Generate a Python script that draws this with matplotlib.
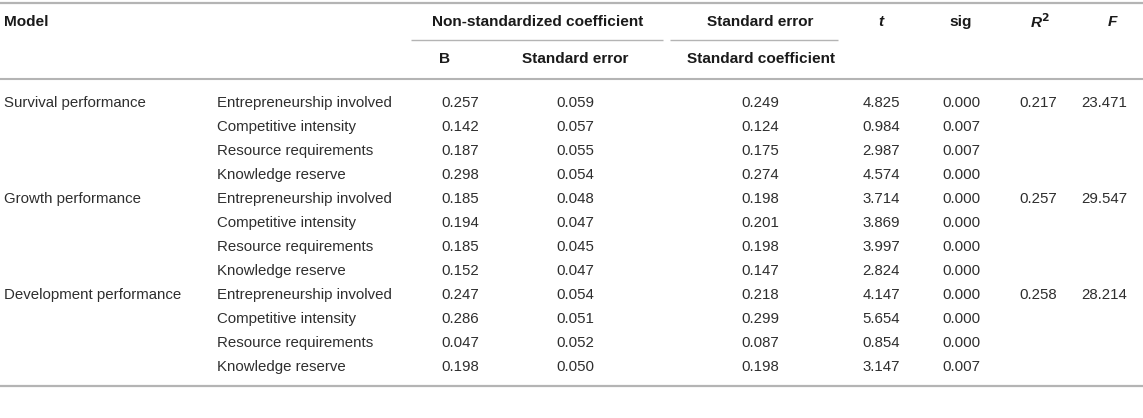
import numpy as np
import matplotlib
matplotlib.use("Agg")
import matplotlib.pyplot as plt

plt.rcParams['font.family'] = ['Liberation Sans', 'DejaVu Sans']
plt.rcParams['mathtext.fontset'] = 'custom'
plt.rcParams['mathtext.bfit'] = 'Liberation Sans:italic:bold'
plt.rcParams['mathtext.rm'] = 'Liberation Sans'

# table data
models = ["Survival performance", "Growth performance", "Development performance"]
predictors = ["Entrepreneurship involved", "Competitive intensity",
              "Resource requirements", "Knowledge reserve"]
b_vals = ["0.257", "0.142", "0.187", "0.298",
          "0.185", "0.194", "0.185", "0.152",
          "0.247", "0.286", "0.047", "0.198"]
se_vals = ["0.059", "0.057", "0.055", "0.054",
           "0.048", "0.047", "0.045", "0.047",
           "0.054", "0.051", "0.052", "0.050"]
std_coef = ["0.249", "0.124", "0.175", "0.274",
            "0.198", "0.201", "0.198", "0.147",
            "0.218", "0.299", "0.087", "0.198"]
t_vals = ["4.825", "0.984", "2.987", "4.574",
          "3.714", "3.869", "3.997", "2.824",
          "4.147", "5.654", "0.854", "3.147"]
sig_vals = ["0.000", "0.007", "0.007", "0.000",
            "0.000", "0.000", "0.000", "0.000",
            "0.000", "0.000", "0.000", "0.007"]
r2_vals = ["0.217", "0.257", "0.258"]
f_vals = ["23.471", "29.547", "28.214"]

W, H = 1143, 418
fig = plt.figure(figsize=(W / 100, H / 100), dpi=100)
ax = fig.add_axes([0, 0, 1, 1])
ax.set_xlim(0, W)
ax.set_ylim(H, 0)
ax.axis('off')

fs_h = 11.1
fs_b = 10.8
line_col = '#b4b4b4'
hd_col = '#1a1a1a'
txt_col = '#2e2e2e'

# layout (pixels)
y_h1, y_ul, y_h2, y_hl = 22, 40, 59, 79
y_row0, dy = 103, 24
y_bot = 386

# horizontal rules
ax.plot([0, W], [2.5, 2.5], color=line_col, lw=1.6, solid_capstyle='butt')
ax.plot([0, W], [y_hl, y_hl], color=line_col, lw=1.5, solid_capstyle='butt')
ax.plot([0, W], [y_bot, y_bot], color=line_col, lw=1.6, solid_capstyle='butt')
ax.plot([411, 663], [y_ul, y_ul], color=line_col, lw=1.0, solid_capstyle='butt')
ax.plot([670, 838], [y_ul, y_ul], color=line_col, lw=1.0, solid_capstyle='butt')

# header
hd = dict(fontsize=fs_h, fontweight='bold', color=hd_col, va='center')
ax.text(4, y_h1, "Model", ha='left', **hd)
ax.text(538, y_h1, "Non-standardized coefficient", ha='center', **hd)
ax.text(760, y_h1, "Standard error", ha='center', **hd)
ax.text(881, y_h1, "t", ha='center', style='italic', **hd)
ax.text(961, y_h1, "sig", ha='center', **hd)
ax.text(1040, y_h1, r"$\mathbfit{R}^{\mathbf{2}}$", ha='center', fontsize=fs_h, color=hd_col, va='center')
ax.text(1112, y_h1, "F", ha='center', style='italic', **hd)
ax.text(445, y_h2, "B", ha='center', **hd)
ax.text(575, y_h2, "Standard error", ha='center', **hd)
ax.text(761, y_h2, "Standard coefficient", ha='center', **hd)

# body
bd = dict(fontsize=fs_b, color=txt_col, va='center')
for i in range(len(b_vals)):
    y = y_row0 + i * dy
    g, k = divmod(i, len(predictors))
    if k == 0:
        ax.text(4, y, models[g], ha='left', **bd)
        ax.text(1038, y, r2_vals[g], ha='center', **bd)
        ax.text(1104, y, f_vals[g], ha='center', **bd)
    ax.text(217, y, predictors[k], ha='left', **bd)
    ax.text(441, y, b_vals[i], ha='left', **bd)
    ax.text(575, y, se_vals[i], ha='center', **bd)
    ax.text(760, y, std_coef[i], ha='center', **bd)
    ax.text(881, y, t_vals[i], ha='center', **bd)
    ax.text(961, y, sig_vals[i], ha='center', **bd)

fig.savefig("out.png", dpi=100)
